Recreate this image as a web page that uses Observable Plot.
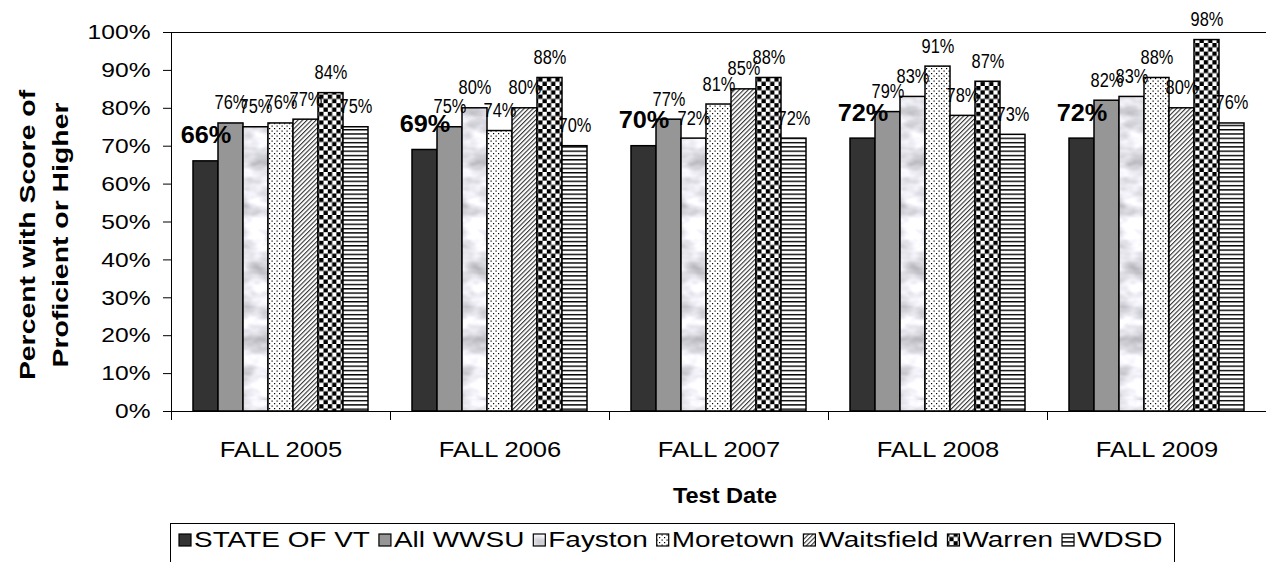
<!DOCTYPE html>
<html><head><meta charset="utf-8">
<script src="https://cdn.jsdelivr.net/npm/d3@7"></script>
<script src="https://cdn.jsdelivr.net/npm/@observablehq/plot@0.6"></script>
<style>
html,body{margin:0;padding:0;background:#fff;}
#chart{position:relative;width:1266px;height:562px;overflow:hidden;background:#fff;}
#legend{position:absolute;left:170px;top:523px;width:1005px;height:48px;border:1px solid #000;box-sizing:border-box;background:#fff;}
#legend svg{display:block;}
</style></head><body>
<svg width="0" height="0" style="position:absolute">
<defs>
  <filter id="marble" x="0" y="0" width="100%" height="100%" color-interpolation-filters="sRGB">
    <feTurbulence type="fractalNoise" baseFrequency="0.035 0.06" numOctaves="3" seed="7"/>
    <feColorMatrix type="matrix" values="0.55 0 0 0 0.62  0.55 0 0 0 0.62  0.55 0 0 0 0.645  0 0 0 0 1"/>
  </filter>
  <pattern id="pFayston" patternUnits="userSpaceOnUse" width="160" height="400">
    <rect width="160" height="400" fill="#e6e7eb" filter="url(#marble)"/>
  </pattern>
  <pattern id="pMoretown" patternUnits="userSpaceOnUse" width="5" height="5">
    <rect width="5" height="5" fill="#fff"/>
    <rect x="0.5" y="0.5" width="1.2" height="1.2" fill="#000"/>
    <rect x="3" y="3" width="1.2" height="1.2" fill="#000"/>
  </pattern>
  <pattern id="pWaitsfield" patternUnits="userSpaceOnUse" width="3.2" height="3.2" patternTransform="rotate(45)">
    <rect width="3.2" height="3.2" fill="#fff"/>
    <rect width="1.1" height="3.2" fill="#333"/>
  </pattern>
  <pattern id="pWarren" patternUnits="userSpaceOnUse" width="8.6" height="8.6">
    <rect width="8.6" height="8.6" fill="#fff"/>
    <rect width="4.3" height="4.3" fill="#000"/>
    <rect x="4.3" y="4.3" width="4.3" height="4.3" fill="#000"/>
  </pattern>
  <pattern id="pWDSD" patternUnits="userSpaceOnUse" width="10" height="4.3">
    <rect width="10" height="4.3" fill="#fff"/>
    <rect width="10" height="1.4" fill="#000"/>
  </pattern>
</defs>
</svg>
<div id="chart"><div id="legend"></div></div>
<script>
// ---- data ----
const years = ["FALL 2005", "FALL 2006", "FALL 2007", "FALL 2008", "FALL 2009"];
const districts = ["STATE OF VT", "All WWSU", "Fayston", "Moretown", "Waitsfield", "Warren", "WDSD"];
const stateVT    = [66, 69, 70, 72, 72];
const allWWSU    = [76, 75, 77, 79, 82];
const fayston    = [75, 80, 72, 83, 83];
const moretown   = [76, 74, 81, 91, 88];
const waitsfield = [77, 80, 85, 78, 80];
const warren     = [84, 88, 88, 87, 98];
const wdsd       = [75, 70, 72, 73, 76];
const yTicks = [0, 10, 20, 30, 40, 50, 60, 70, 80, 90, 100];
const yTitle = ["Percent with Score of", "Proficient or Higher"];
const xTitle = "Test Date";

// ---- styles ----
const fills = ["#333333", "#969696", "url(#pFayston)", "url(#pMoretown)", "url(#pWaitsfield)", "url(#pWarren)", "url(#pWDSD)"];

const series = [stateVT, allWWSU, fayston, moretown, waitsfield, warren, wdsd];
const data = years.flatMap((yr, i) => districts.map((d, j) => ({year: yr, district: d, value: series[j][i]})));
const isState = d => d.district === districts[0];

const chart = Plot.plot({
  width: 1266, height: 520,
  marginLeft: 170, marginRight: 0, marginTop: 32, marginBottom: 101,
  style: {fontFamily: "'Liberation Sans', Arial, sans-serif", color: "#000", background: "#fff", overflow: "visible"},
  fx: {domain: years, padding: 0, label: null},
  x: {domain: districts, paddingInner: 0, paddingOuter: 0.72, axis: null},
  y: {domain: [0, 100], range: [411, 32], label: null},
  color: {type: "ordinal", domain: districts, range: fills},
  marks: [
    Plot.axisY({ticks: yTicks, tickFormat: d => d + "%", tickSize: 8, tickPadding: 13, fontSize: 21, label: null, stroke: "#000"}),
    Plot.axisFx({anchor: "bottom", tickSize: 0, tickPadding: 22, fontSize: 22, label: null}),
    Plot.barY(data, {fx: "year", x: "district", y: "value", fill: "district", stroke: "#000", strokeWidth: 1.5}),
    Plot.ruleY([0], {stroke: "#000", strokeWidth: 1}),
    Plot.frame({anchor: "top", facet: "super", stroke: "#000"}),
    Plot.frame({anchor: "left", facet: "super", stroke: "#000"}),
    Plot.frame({anchor: "left", insetTop: 379, stroke: "#000"}),
    Plot.text(data.filter(d => !isState(d)), {fx: "year", x: "district", y: "value", text: d => d.value + "%",
      lineAnchor: "bottom", dy: -14, fontSize: 19.5, className: "dl"}),
    Plot.text(data.filter(isState), {fx: "year", x: "district", y: "value", text: d => d.value + "%",
      lineAnchor: "bottom", dy: -18, fontSize: 23, fontWeight: "bold", className: "sl"}),
    Plot.text([yTitle[0]], {facet: "super", frameAnchor: "left", text: d => d, rotate: -90, lineAnchor: "bottom",
      textAnchor: "middle", dx: -137, dy: 9, fontSize: 22, fontWeight: "bold", className: "yt"}),
    Plot.text([yTitle[1]], {facet: "super", frameAnchor: "left", text: d => d, rotate: -90, lineAnchor: "bottom",
      textAnchor: "middle", dx: -104, dy: 9, fontSize: 22, fontWeight: "bold", className: "yt"}),
    Plot.text([xTitle], {facet: "super", frameAnchor: "bottom", text: d => d, lineAnchor: "bottom",
      textAnchor: "middle", dy: 83, dx: 6, fontSize: 22, fontWeight: "bold", className: "xt"})
  ]
});
document.getElementById("chart").prepend(chart);

function stretch(root, selector, k) {
  root.querySelectorAll(selector).forEach(t => {
    const L = t.getComputedTextLength();
    t.setAttribute("textLength", (L * k).toFixed(1));
    t.setAttribute("lengthAdjust", "spacingAndGlyphs");
  });
}
stretch(chart, 'g[aria-label="y-axis tick label"] text', 1.17);
stretch(chart, 'g[aria-label="fx-axis tick label"] text', 1.16);
stretch(chart, 'g.dl text', 0.84);
stretch(chart, 'g.sl text', 1.1);
stretch(chart, 'g.yt text', 1.29);
stretch(chart, 'g.xt text', 1.07);

// ---- legend ----
const lg = d3.select("#legend").append("svg").attr("width", 1003).attr("height", 46)
  .style("font-family", "'Liberation Sans', Arial, sans-serif");
let cx = 8;
districts.forEach((d, i) => {
  lg.append("rect").attr("x", cx).attr("y", 10).attr("width", 12).attr("height", 12)
    .attr("fill", fills[i]).attr("stroke", "#000").attr("stroke-width", 1.2);
  cx += 15;
  const t = lg.append("text").attr("x", cx).attr("y", 23).attr("font-size", 22).text(d);
  const L = t.node().getComputedTextLength() * 1.27;
  t.attr("textLength", L.toFixed(1)).attr("lengthAdjust", "spacingAndGlyphs");
  cx += L + 9;
});
</script>
</body></html>
